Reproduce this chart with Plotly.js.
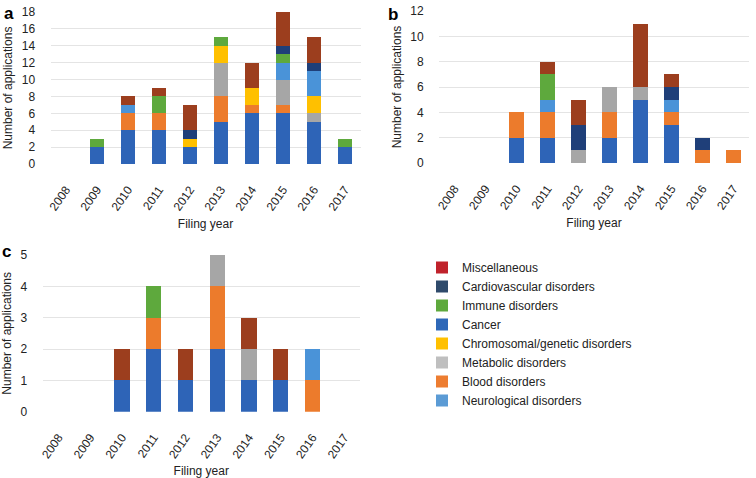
<!DOCTYPE html>
<html>
<head>
<meta charset="utf-8">
<script src="https://cdn.plot.ly/plotly-3.0.1.min.js"></script>
<style>html,body{margin:0;padding:0;background:#fff;}#chart{width:756px;height:478px;}</style>
</head>
<body>
<div id="chart"></div>
<script>
var years = ['2008','2009','2010','2011','2012','2013','2014','2015','2016','2017'];

// stacking order bottom -> top
var categories = ['Cancer','Blood disorders','Metabolic disorders','Chromosomal/genetic disorders','Neurological disorders','Immune disorders','Cardiovascular disorders','Miscellaneous'];

// Panel a
var aCancer      = [0,2,4,4,2,5,6,6,5,2];
var aBlood       = [0,0,2,2,0,3,1,1,0,0];
var aMetabolic   = [0,0,0,0,0,4,0,3,1,0];
var aChromosomal = [0,0,0,0,1,2,2,0,2,0];
var aNeuro       = [0,0,1,0,0,0,0,2,3,0];
var aImmune      = [0,1,0,2,0,1,0,1,0,1];
var aCardio      = [0,0,0,0,1,0,0,1,1,0];
var aMisc        = [0,0,1,1,3,0,3,4,3,0];

// Panel b
var bCancer      = [0,0,2,2,0,2,5,3,0,0];
var bBlood       = [0,0,2,2,0,2,0,1,1,1];
var bMetabolic   = [0,0,0,0,1,2,1,0,0,0];
var bChromosomal = [0,0,0,0,0,0,0,0,0,0];
var bNeuro       = [0,0,0,1,0,0,0,1,0,0];
var bImmune      = [0,0,0,2,0,0,0,0,0,0];
var bCardio      = [0,0,0,0,2,0,0,1,1,0];
var bMisc        = [0,0,0,1,2,0,5,1,0,0];

// Panel c
var cCancer      = [0,0,1,2,1,2,1,1,0,0];
var cBlood       = [0,0,0,1,0,2,0,0,1,0];
var cMetabolic   = [0,0,0,0,0,1,1,0,0,0];
var cChromosomal = [0,0,0,0,0,0,0,0,0,0];
var cNeuro       = [0,0,0,0,0,0,0,0,1,0];
var cImmune      = [0,0,0,1,0,0,0,0,0,0];
var cCardio      = [0,0,0,0,0,0,0,0,0,0];
var cMisc        = [0,0,1,0,1,0,1,1,0,0];

var barColors = ['#2E64B7','#EC7B2C','#A6A6A6','#FFC000','#4A93D8','#5EA93D','#1F3F79','#9C3E1E'];

// legend (top -> bottom) with its own swatch colours
var legendNames  = ['Miscellaneous','Cardiovascular disorders','Immune disorders','Cancer','Chromosomal/genetic disorders','Metabolic disorders','Blood disorders','Neurological disorders'];
var legendColors = ['#C0222B','#2F4A6B','#5EA93D','#2E68B8','#FFC000','#BFBFBF','#ED7D31','#5B9BD5'];

var panels = [
  {xa:'x',  ya:'y',  data:[aCancer,aBlood,aMetabolic,aChromosomal,aNeuro,aImmune,aCardio,aMisc]},
  {xa:'x2', ya:'y2', data:[bCancer,bBlood,bMetabolic,bChromosomal,bNeuro,bImmune,bCardio,bMisc]},
  {xa:'x3', ya:'y3', data:[cCancer,cBlood,cMetabolic,cChromosomal,cNeuro,cImmune,cCardio,cMisc]}
];

var traces = [];
panels.forEach(function(p){
  p.data.forEach(function(vals, i){
    traces.push({
      type:'bar', x:years, y:vals, name:categories[i], xaxis:p.xa, yaxis:p.ya,
      marker:{color:barColors[i], line:{width:0}}, width:0.48, showlegend:false,
      hoverinfo:'x+y+name'
    });
  });
});
legendNames.forEach(function(n, i){
  traces.push({type:'bar', x:[null], y:[null], name:n, xaxis:'x', yaxis:'y',
    marker:{color:legendColors[i]}, showlegend:true, hoverinfo:'skip'});
});

var W = 756, H = 478;
function xd(l, r){ return [l/W, r/W]; }
function yd(bottom, top){ return [(H-bottom)/H, (H-top)/H]; }

var font = {family:'Liberation Sans, Arial, sans-serif', size:12, color:'#222'};
function xaxis(dom, anchor){
  return {domain:dom, anchor:anchor, type:'category', tickangle:-55, showgrid:false, zeroline:false,
    showline:false, ticks:'outside', ticklen:13, tickcolor:'rgba(0,0,0,0)', tickfont:{size:12, color:'#222'},
    title:{text:'Filing year', font:{size:12, color:'#222'}, standoff:7}, fixedrange:true};
}
function yaxis(dom, anchor, range, dtick){
  return {domain:dom, anchor:anchor, range:range, dtick:dtick, showgrid:true, gridcolor:'#E4E4E4', gridwidth:1,
    zeroline:false, showline:false, ticks:'outside', ticklen:12, tickcolor:'rgba(0,0,0,0)',
    tickfont:{size:12, color:'#222'}, title:{text:'Number of applications', font:{size:12, color:'#222'}, standoff:6}, fixedrange:true};
}

var layout = {
  width:W, height:H, margin:{l:0, r:0, t:0, b:0}, paper_bgcolor:'#fff', plot_bgcolor:'#fff',
  barmode:'stack', bargap:0.5, font:font, showlegend:true,
  xaxis:  xaxis(xd(50.5, 360.5), 'y'),
  yaxis:  yaxis(yd(164, 12), 'x', [0,18], 2),
  xaxis2: xaxis(xd(439, 749), 'y2'),
  yaxis2: yaxis(yd(163, 11), 'x2', [0,12], 2),
  xaxis3: xaxis(xd(42.6, 360), 'y3'),
  yaxis3: yaxis(yd(411.7, 255), 'x3', [0,5], 1),
  legend:{x:422/W, y:(H-253)/H, xanchor:'left', yanchor:'top', bgcolor:'rgba(0,0,0,0)', borderwidth:0,
    font:{size:12, color:'#222'}, traceorder:'normal', itemclick:false, itemdoubleclick:false},
  annotations:[
    {text:'<b>a</b>', x:2/W, y:(H-2)/H, xref:'paper', yref:'paper', xanchor:'left', yanchor:'top', showarrow:false, font:{size:17, color:'#000'}},
    {text:'<b>b</b>', x:386/W, y:(H-3)/H, xref:'paper', yref:'paper', xanchor:'left', yanchor:'top', showarrow:false, font:{size:17, color:'#000'}},
    {text:'<b>c</b>', x:0/W, y:(H-240)/H, xref:'paper', yref:'paper', xanchor:'left', yanchor:'top', showarrow:false, font:{size:17, color:'#000'}}
  ]
};

Plotly.newPlot('chart', traces, layout, {displayModeBar:false, staticPlot:true});
</script>
</body>
</html>
